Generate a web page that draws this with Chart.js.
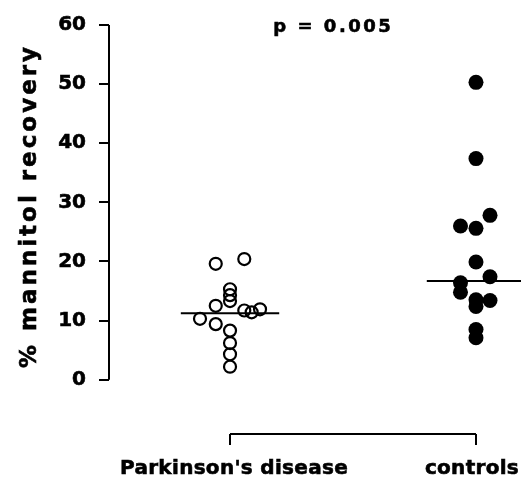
<!DOCTYPE html>
<html>
<head>
<meta charset="utf-8">
<script src="https://cdn.jsdelivr.net/npm/chart.js@4.4.1/dist/chart.umd.min.js"></script>
<style>
  html, body { margin: 0; padding: 0; background: #fff; }
  canvas { display: block; }
</style>
</head>
<body>
<canvas id="chart" width="521" height="480"></canvas>
<script>
'use strict';

// ── Data ─────────────────────────────────────────────────
const CATEGORIES = ["Parkinson's disease", 'controls'];
const Y_TICKS = [0, 10, 20, 30, 40, 50, 60];

// x = group position (1 or 2) plus the horizontal jitter of the dot plot
const PD_X = [0.942, 1.058, 1.0, 1.0, 1.0, 0.942, 0.878, 1.058, 1.088, 1.122, 0.942, 1.0, 1.0, 1.0, 1.0];
const PD_Y = [19.6, 20.4, 15.3, 14.3, 13.3, 12.5, 10.3, 11.7, 11.4, 11.9, 9.4, 8.3, 6.2, 4.3, 2.2];

const CTRL_X = [2.0, 2.0, 2.057, 1.937, 2.0, 2.0, 2.057, 1.937, 1.937, 2.0, 2.057, 2.0, 2.0, 2.0];
const CTRL_Y = [50.3, 37.4, 27.8, 26.0, 25.6, 19.9, 17.4, 16.4, 14.8, 13.5, 13.4, 12.4, 8.5, 7.1];

const MEDIANS = [11.25, 16.7];
const P_TEXT = 'p = 0.005';
const Y_TITLE = '% mannitol recovery';

// ── Styling ──────────────────────────────────────────────
const FONT = "'DejaVu Sans', sans-serif";
const INK = '#000';
const MEDIAN_HALF = 0.2;
const LABEL_SHIFT = [4, -4];   // px nudge of the group labels
const HEAVY = 0.6;             // extra stroke so text reads as heavy as the print

const toPoints = (xs, ys) => xs.map((x, i) => ({ x, y: ys[i] }));
const medianLine = (i) => [
    { x: i + 1 - MEDIAN_HALF, y: MEDIANS[i] },
    { x: i + 1 + MEDIAN_HALF, y: MEDIANS[i] },
];

const heavyText = (ctx, text, x, y) => {
    ctx.fillText(text, x, y);
    ctx.strokeText(text, x, y);
};

// axis lines, bracket, group labels, p value and y title
const decorations = {
    id: 'decorations',
    afterDraw(chart) {
        const { ctx, chartArea, scales: { x, y } } = chart;
        ctx.save();
        ctx.strokeStyle = INK;
        ctx.lineWidth = 2;

        // y axis only spans 0..60
        ctx.beginPath();
        ctx.moveTo(chartArea.left, y.getPixelForValue(Y_TICKS[0]));
        ctx.lineTo(chartArea.left, y.getPixelForValue(Y_TICKS[Y_TICKS.length - 1]));
        ctx.stroke();

        // bracket between the two groups
        ctx.beginPath();
        ctx.moveTo(x.getPixelForValue(1), chartArea.bottom);
        ctx.lineTo(x.getPixelForValue(2), chartArea.bottom);
        ctx.stroke();

        ctx.fillStyle = INK;
        ctx.lineWidth = HEAVY;
        ctx.textAlign = 'center';
        ctx.textBaseline = 'alphabetic';

        // group labels
        ctx.font = `bold 20px ${FONT}`;
        ctx.letterSpacing = '0.3px';
        CATEGORIES.forEach((c, i) =>
            heavyText(ctx, c, x.getPixelForValue(i + 1) + LABEL_SHIFT[i], chartArea.bottom + 40));

        ctx.font = `bold 18px ${FONT}`;
        ctx.letterSpacing = '2.5px';
        heavyText(ctx, P_TEXT, x.getPixelForValue(1.42), 32);

        ctx.font = `bold 23px ${FONT}`;
        ctx.letterSpacing = '3px';
        ctx.translate(35.5, 206);
        ctx.rotate(-Math.PI / 2);
        heavyText(ctx, Y_TITLE, 0, 0);
        ctx.letterSpacing = '0px';
        ctx.restore();
    }
};

new Chart(document.getElementById('chart'), {
    type: 'scatter',
    data: {
        datasets: [
            {
                label: CATEGORIES[0],
                data: toPoints(PD_X, PD_Y),
                pointRadius: 6,
                pointBorderWidth: 2.2,
                pointBackgroundColor: 'rgba(0,0,0,0)',
                pointBorderColor: INK,
            },
            {
                label: CATEGORIES[1],
                data: toPoints(CTRL_X, CTRL_Y),
                pointRadius: 7.5,
                pointBorderWidth: 0,
                pointBackgroundColor: INK,
                pointBorderColor: INK,
            },
            {
                type: 'line', label: 'median PD', data: medianLine(0),
                borderColor: INK, borderWidth: 2, pointRadius: 0, showLine: true,
            },
            {
                type: 'line', label: 'median controls', data: medianLine(1),
                borderColor: INK, borderWidth: 2, pointRadius: 0, showLine: true,
            },
        ]
    },
    options: {
        responsive: false,
        animation: false,
        devicePixelRatio: 1,
        layout: { autoPadding: false, padding: { top: 20, left: 0, right: 0, bottom: 0 } },
        plugins: {
            legend: { display: false },
            tooltip: { enabled: false },
        },
        scales: {
            x: {
                type: 'linear',
                min: 0.508, max: 2.183,
                afterBuildTicks: s => { s.ticks = [{ value: 1 }, { value: 2 }]; },
                afterFit: s => { s.height = 46; s.paddingLeft = 0; s.paddingRight = 0; },
                ticks: {
                    autoSkip: false, maxRotation: 0, color: INK,
                    font: { family: FONT, size: 20, weight: 'bold' },
                    callback: () => '',   // labels drawn by the plugin
                },
                grid: { drawOnChartArea: false, drawTicks: true, tickLength: 11, color: INK, lineWidth: 2 },
                border: { display: false },
            },
            y: {
                min: -9.19, max: 60,
                afterBuildTicks: s => { s.ticks = Y_TICKS.map(value => ({ value })); },
                afterFit: s => { s.width = 109; },
                ticks: {
                    autoSkip: false, padding: 13, color: INK,
                    textStrokeColor: INK, textStrokeWidth: HEAVY,
                    font: { family: FONT, size: 20, weight: 'bold' },
                },
                grid: { drawOnChartArea: false, drawTicks: true, tickLength: 10, color: INK, lineWidth: 2 },
                border: { display: false },
            }
        }
    },
    plugins: [decorations]
});
</script>
</body>
</html>
